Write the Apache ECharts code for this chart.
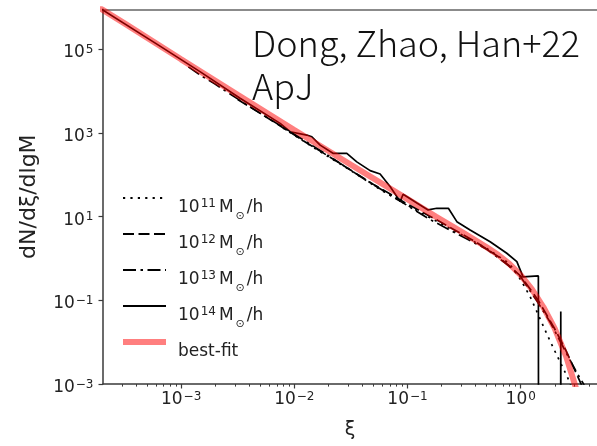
<!DOCTYPE html>
<html><head><meta charset="utf-8">
<script src="https://cdn.jsdelivr.net/npm/echarts@6/dist/echarts.min.js"></script>
<style>html,body{margin:0;padding:0;background:#fff}#c{width:597px;height:446px}</style>
</head><body><div id="c"></div>
<script>
// log10(value) used for both axes; LOG_ZERO stands for empty (zero-count) bins, clipped like matplotlib
const LOG_ZERO = -300;
const X_MIN = -3.69, X_MAX = 0.674, Y_MIN = -3, Y_MAX = 5.956;
const xTickLabels = [-3, -2, -1, 0];
const yTickLabels = [-3, -1, 1, 3, 5];
const xMinorTicks = [];
for (let d = -4; d <= 0; d++) for (let k = 2; k <= 9; k++) { const v = d + Math.log10(k); if (v > X_MIN && v < X_MAX) xMinorTicks.push(v); }

// best-fit
const fitLogXi = [-3.75,-3.5,-3.0,-2.5,-2.0,-1.5,-1.0,-0.75,-0.5,-0.3,-0.2,-0.1,0.0,0.1,0.2,0.3,0.4,0.5,0.6];
const fitLogN  = [6.04,5.62,4.76,3.91,3.07,2.24,1.42,1.00,0.60,0.27,0.09,-0.13,-0.40,-0.74,-1.16,-1.67,-2.33,-3.2,-4.3];
// 10^11 Msun/h (dotted)
const m11LogXi = [-2.1,-1.8,-1.5,-1.2,-0.9,-0.6,-0.3,-0.1,0.0,0.083,0.156,0.215,0.268,0.322,0.375,0.428,0.472,0.52];
const m11LogN  = [3.12,2.60,2.10,1.58,1.12,0.68,0.24,-0.12,-0.51,-0.91,-1.35,-1.71,-2.02,-2.33,-2.62,-2.93,-3.26,-3.7];
// 10^12 Msun/h (dashed)
const m12LogXi = [-2.5,-2.2,-1.9,-1.6,-1.3,-1.0,-0.7,-0.4,-0.2,0.0,0.15,0.3,0.4,0.5,0.6];
const m12LogN  = [3.80,3.30,2.78,2.28,1.77,1.30,0.86,0.40,0.05,-0.42,-0.98,-1.68,-2.20,-2.80,-3.4];
// 10^13 Msun/h (dash-dot)
const m13LogXi = [-2.936,-2.80,-2.70,-2.55,-2.3,-2.0,-1.7,-1.4,-1.1,-0.8,-0.5,-0.3,-0.1,0.0,0.154,0.26,0.357,0.436,0.498,0.551,0.613];
const m13LogN  = [4.58,4.33,4.17,3.90,3.47,2.97,2.46,1.93,1.43,0.93,0.50,0.22,-0.18,-0.44,-1.06,-1.52,-2.02,-2.43,-2.74,-2.98,-3.30];
// 10^14 Msun/h (solid)
const m14LogXi = [-3.75,-3.2,-2.83,-2.479,-2.125,-2.037,-1.89,-1.845,-1.772,-1.655,-1.536,-1.448,-1.33,-1.242,-1.154,-1.065,-1.039,-0.889,-0.818,-0.741,-0.639,-0.564,-0.447,-0.27,-0.123,-0.034,0.021,0.156,0.25,0.354,0.45,0.7];
const m14LogN  = [6.04,5.10,4.46,3.83,3.23,3.03,2.95,2.91,2.71,2.51,2.51,2.31,2.10,2.02,1.72,1.36,1.535,1.28,1.16,1.20,1.20,0.88,0.68,0.40,0.125,-0.075,-0.44,-0.417,LOG_ZERO,-1.27,LOG_ZERO,LOG_ZERO];

const pairs = (xs, ys) => xs.map((x, i) => [x, ys[i]]);
const FONT = 'DejaVu Sans';
const AX = '#3a3a3a', TXT = '#222';
const sup = v => '{n|10}{s|' + String(v).replace('-', '\u2212') + '}';
const tickRich = {
  n: {fontSize: 17, lineHeight: 17, padding: [7, 0, 0, 0], color: TXT, fontFamily: FONT},
  s: {fontSize: 12, lineHeight: 12, padding: [3, 0, 0, 1], verticalAlign: 'top', color: TXT, fontFamily: FONT}
};
const legendNames = {
  M11: '{a|10}{s|11}{n|M}{o|\u2299}{n|/h}',
  M12: '{a|10}{s|12}{n|M}{o|\u2299}{n|/h}',
  M13: '{a|10}{s|13}{n|M}{o|\u2299}{n|/h}',
  M14: '{a|10}{s|14}{n|M}{o|\u2299}{n|/h}',
  'best-fit': '{f|best-fit}'
};
const legendRich = {
  a: {fontSize: 17, lineHeight: 17, padding: [10, 0, 10, 7], verticalAlign: 'top', color: TXT, fontFamily: FONT},
  n: {fontSize: 17, lineHeight: 17, padding: [10, 0, 0, 0], verticalAlign: 'top', color: TXT, fontFamily: FONT},
  s: {fontSize: 12, lineHeight: 12, padding: [8, 3, 0, 1], verticalAlign: 'top', color: TXT, fontFamily: FONT},
  o: {fontSize: 11, lineHeight: 11, padding: [21, 2, 0, 2], verticalAlign: 'top', color: TXT, fontFamily: FONT},
  f: {fontSize: 17, lineHeight: 17, padding: [10, 0, 10, 7], verticalAlign: 'top', color: TXT, fontFamily: FONT}
};
const blackLine = (name, xs, ys, type) => ({
  name, type: 'line', xAxisIndex: 0, yAxisIndex: 0, data: pairs(xs, ys),
  symbol: 'none', showSymbol: false, clip: true, animation: false,
  itemStyle: {color: '#000'},
  lineStyle: {color: '#000', width: 1.7, type}
});
const grid = {left: 103, right: 0, top: 9.3, bottom: 62};
const chart = echarts.init(document.getElementById('c'), null, {renderer: 'canvas'});
chart.setOption({
  animation: false,
  backgroundColor: '#fff',
  title: {
    text: 'Dong, Zhao, Han+22\nApJ', left: 247, top: 17,
    textStyle: {fontFamily: 'Noto Sans CJK SC', fontWeight: 300, fontSize: 36, lineHeight: 43, color: '#111'}
  },
  grid: [grid, Object.assign({}, grid)],
  xAxis: [
    {type: 'value', gridIndex: 0, position: 'bottom', min: X_MIN, max: X_MAX,
     name: '\u03be', nameLocation: 'middle', nameGap: 37,
     nameTextStyle: {fontFamily: FONT, fontSize: 19, color: TXT},
     axisLine: {show: true, onZero: false, lineStyle: {color: AX, width: 1.5}},
     axisTick: {show: true, length: 4.5, lineStyle: {color: AX, width: 1.2}, customValues: xTickLabels},
     axisLabel: {show: true, margin: 4, customValues: xTickLabels, formatter: v => sup(v), rich: tickRich},
     splitLine: {show: false}},
    {type: 'value', gridIndex: 0, position: 'top', min: X_MIN, max: X_MAX,
     axisLine: {show: true, onZero: false, lineStyle: {color: '#666', width: 1.5}},
     axisTick: {show: false}, axisLabel: {show: false}, splitLine: {show: false}},
    {type: 'value', gridIndex: 1, position: 'bottom', min: X_MIN, max: X_MAX,
     axisLine: {show: false, onZero: false},
     axisTick: {show: true, length: 2.6, lineStyle: {color: AX, width: 1}, customValues: xMinorTicks},
     axisLabel: {show: false}, splitLine: {show: false}}
  ],
  yAxis: [
    {type: 'value', gridIndex: 0, min: Y_MIN, max: Y_MAX,
     name: 'dN/d\u03be/dlgM', nameLocation: 'middle', nameGap: 63,
     nameTextStyle: {fontFamily: FONT, fontSize: 22, color: TXT, padding: [0, 0, 0, 0]},
     axisLine: {show: true, onZero: false, lineStyle: {color: AX, width: 1.5}},
     axisTick: {show: true, length: 4.5, lineStyle: {color: AX, width: 1.2}, customValues: yTickLabels},
     axisLabel: {show: true, margin: 9.5, customValues: yTickLabels, formatter: v => sup(v), rich: tickRich},
     splitLine: {show: false}},
    {type: 'value', gridIndex: 1, min: Y_MIN, max: Y_MAX, show: false, axisLine: {onZero: false}}
  ],
  legend: {
    orient: 'vertical', left: 120, top: 189.5, padding: 0, itemGap: -1,
    itemWidth: 43, itemHeight: 12,
    itemStyle: {opacity: 0},
    data: [
      {name: 'M11', lineStyle: {width: 2.2, opacity: 1}},
      {name: 'M12', lineStyle: {width: 2.2, opacity: 1}},
      {name: 'M13', lineStyle: {width: 2.2, opacity: 1}},
      {name: 'M14', lineStyle: {width: 2.2, opacity: 1}},
      {name: 'best-fit', lineStyle: {width: 6, opacity: 1}}
    ],
    formatter: name => legendNames[name],
    textStyle: {fontFamily: FONT, fontSize: 17, color: TXT, rich: legendRich}
  },
  series: [
    blackLine('M11', m11LogXi, m11LogN, [2.2, 5.2]),
    blackLine('M12', m12LogXi, m12LogN, [11, 4.5]),
    blackLine('M13', m13LogXi, m13LogN, [13, 4.5, 2.5, 4.5]),
    blackLine('M14', m14LogXi, m14LogN, 'solid'),
    {name: 'best-fit', type: 'line', xAxisIndex: 0, yAxisIndex: 0, data: pairs(fitLogXi, fitLogN),
     symbol: 'none', showSymbol: false, clip: true, animation: false,
     itemStyle: {color: 'rgba(255,0,0,0.5)'},
     lineStyle: {color: 'rgba(255,0,0,0.5)', width: 6}}
  ]
});
</script></body></html>
